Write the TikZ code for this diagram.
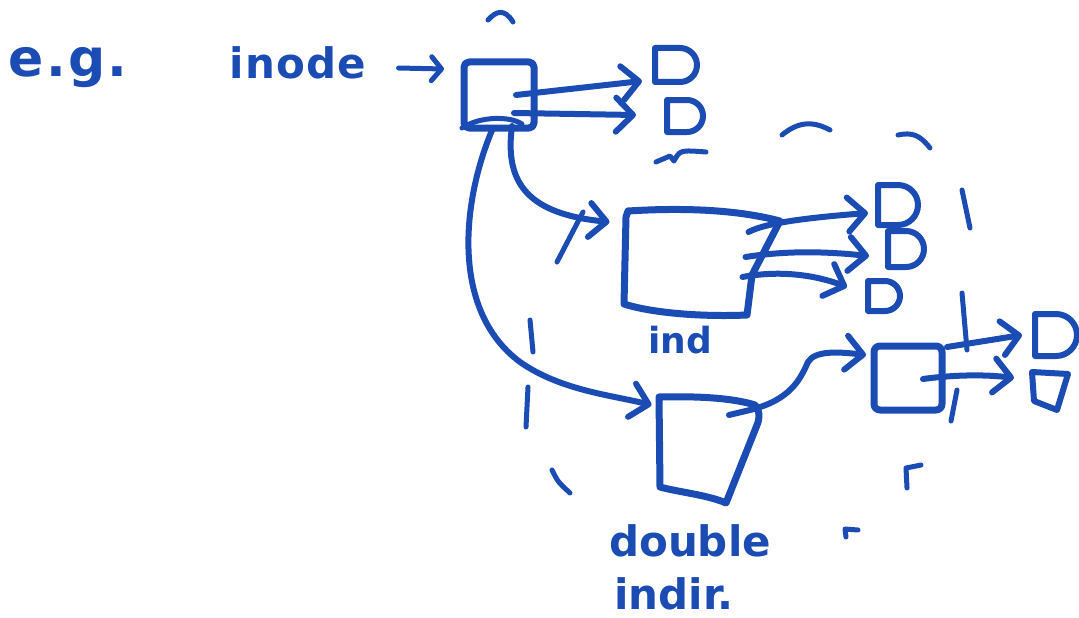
\documentclass[tikz,border=0pt]{standalone}
\usepackage{fontspec}
\setmainfont{DejaVu Sans}
\usetikzlibrary{arrows.meta,shapes.misc,calc}
\definecolor{ink}{RGB}{26,76,180}
\begin{document}
\begin{tikzpicture}[x=1pt,y=-1pt,
  box/.style={draw=ink, line width=7pt, line join=round, inner sep=0pt, outer sep=0pt},
  slot/.style={draw=none, rectangle, inner sep=0pt, outer sep=0pt},
  outline/.style={draw=ink, line width=7pt, line join=round, line cap=round},
  leaf/.style={draw=ink, line width=6pt, line join=round, rounded rectangle, rounded rectangle left arc=none, inner sep=0pt, outer sep=0pt},
  arr/.style={draw=ink, line width=6pt, line cap=round, line join=round, -{Straight Barb[round, length=17pt, width=34pt]}},
  sarr/.style={draw=ink, line width=5pt, line cap=round, line join=round, -{Straight Barb[round, length=10pt, width=24pt]}},
  frag/.style={draw=ink, line width=5pt, line cap=round, line join=round},
  txt/.style={text=ink, inner sep=0pt, font=\bfseries}]
\useasboundingbox (0,0) rectangle (1079,618);
% texts
\node[txt, font=\fontsize{52}{60}\selectfont\bfseries\addfontfeature{LetterSpace=4}] (eg) at (68,68) {e.g.};
\node[txt, font=\fontsize{42}{50}\selectfont\bfseries\addfontfeature{LetterSpace=3}] (lbl) at (298,63) {inode};
\node[txt, font=\fontsize{36}{44}\selectfont\bfseries] (indl) at (680,340) {ind};
\node[txt, font=\fontsize{42}{50}\selectfont\bfseries] (dbll) at (690,541) {double};
\node[txt, font=\fontsize{42}{50}\selectfont\bfseries] (indirl) at (674,594) {indir.};
% boxes
\node[box, rectangle, rounded corners=5pt, minimum width=70, minimum height=66] (inode) at (499,95) {};
\node[slot, minimum width=155, minimum height=98] (ind) at (702,263) {};
\draw[outline, shift={(ind.center)}] (-76,-46) -- (-74,-52) .. controls (-10,-56) and (40,-52) .. (78,-42)
   -- (50,12) -- (45,52) .. controls (0,54) and (-50,50) .. (-78,41) -- cycle;
\node[slot, minimum width=97, minimum height=98] (dbl) at (708,450) {};
\draw[outline, shift={(dbl.center)}] (-49,-53) .. controls (-10,-54) and (25,-52) .. (47,-45)
   .. controls (52,-40) and (52,-32) .. (49,-25) -- (18,53) .. controls (0,45) and (-30,42) .. (-48,37) -- cycle;
\node[box, rectangle, rounded corners=6pt, minimum width=68, minimum height=64] (sec) at (908,378) {};
% leaves
\node[leaf, minimum width=42, minimum height=34] (D1) at (676,65) {};
\node[leaf, minimum width=36, minimum height=32] (D2) at (685,116) {};
\node[leaf, minimum width=37, minimum height=40] (L3) at (898,205) {};
\node[leaf, minimum width=28, minimum height=36] (L4) at (906,249) {};
\node[leaf, minimum width=32, minimum height=30] (L5) at (884,296) {};
\node[leaf, minimum width=33, minimum height=42] (L6) at (1056,335) {};
\node[slot, minimum width=38, minimum height=36] (L7) at (1048,389) {};
\draw[outline, line width=6pt, shift={(L7.center)}] (-16,-17) -- (20,-15) -- (9,21) -- (-14,12) -- cycle;
% connectors
\draw[sarr] ($(lbl.east)+(32,5)$) -- ($(inode.west)+(-20,-26)$);
\draw[arr] ($(inode.east)+(-18,0)$) -- ($(D1.west)+(-13,16)$);
\draw[arr] ($(inode.east)+(-20,18)$) -- ($(D2.west)+(-31,-1)$);
\draw[arr] ($(inode.south)+(13,-2)$) .. controls (504,185) and (530,214) .. ($(ind.west)+(-15,-41)$);
\draw[arr] ($(inode.south)+(-6,0)$) .. controls (462,200) and (450,310) .. (520,362)
   .. controls (560,390) and (610,395) .. ($(dbl.west)+(-8,-45)$);
\draw[arr] ($(ind.east)+(-31,-31)$) .. controls (762,225) and (790,219) .. ($(L3.west)+(-10,8)$);
\draw[arr] ($(ind.east)+(-34,-6)$) .. controls (790,250) and (830,252) .. ($(L4.west)+(-19,7)$);
\draw[arr] ($(ind.east)+(-37,14)$) .. controls (780,270) and (815,275) .. ($(L5.west)+(-21,-9)$);
\draw[arr] ($(dbl.center)+(21,-35)$) -- (750,410) .. controls (790,400) and (800,380) .. (808,362)
   .. controls (815,350) and (840,352) .. ($(sec.west)+(-8,-23)$);
\draw[arr] ($(sec.east)+(5,-31)$) -- ($(L6.west)+(-13,0)$);
\draw[arr] ($(sec.east)+(-19,1)$) .. controls (960,374) and (990,375) .. ($(L7.west)+(-15,-11)$);
% leftover strokes
\draw[frag] (488,20) .. controls (497,10) and (505,9) .. (513,22);
\draw[frag] (656,162) -- (670,156) -- (674,161) .. controls (680,150) .. (706,152);
\draw[frag] (782,135) .. controls (800,120) and (815,122) .. (830,130);
\draw[frag] (898,135) .. controls (912,132) and (920,135) .. (930,148);
\draw[frag] (962,190) -- (970,228);
\draw[frag] (962,293) -- (967,350);
\draw[frag] (530,320) -- (533,352);
\draw[frag] (528,387) -- (526,427);
\draw[frag] (552,470) .. controls (558,482) .. (570,493);
\draw[frag] (907,488) -- (906,468) -- (921,465);
\draw[frag] (846,537) -- (845,529) -- (858,530);
\draw[frag] (557,262) -- (583,212);
\draw[frag] (957,390) -- (951,421);
\draw[frag] (462,128) .. controls (480,116) and (510,116) .. (522,124);
\end{tikzpicture}
\end{document}
